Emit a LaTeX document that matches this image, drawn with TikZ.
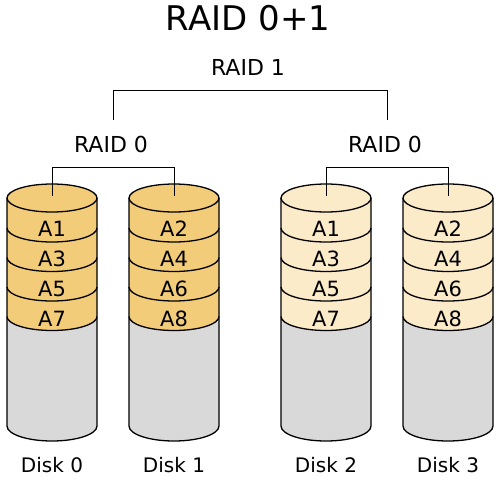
\documentclass[tikz,border=0pt]{standalone}
\usepackage{fontspec}
\setmainfont{DejaVu Sans}
\usetikzlibrary{positioning}

\definecolor{stripeA}{HTML}{F2CC78}
\definecolor{stripeB}{HTML}{FCEBC9}
\definecolor{freespace}{HTML}{D9D9D9}

\begin{document}
\begin{tikzpicture}[x=1pt, y=-1pt,
    lbl/.style={font=\fontsize{22}{26}\selectfont, inner sep=0pt},
    blk/.style={font=\fontsize{21}{25}\selectfont, inner sep=0pt},
    wire/.style={line width=1pt},
    shell/.style={line width=1.3pt},
    rim/.style={x radius=45pt, y radius=14pt},
  ]
  \useasboundingbox (0,0) rectangle (498,482);
  \node[font=\fontsize{34}{40}\selectfont, inner sep=0pt] (title) at (248,18) {RAID 0+1};
  \node[lbl] (r1) at (248,67) {RAID 1};
  \node[lbl] (r0a) at (111,144) {RAID 0};
  \node[lbl] (r0b) at (385,144) {RAID 0};
  \coordinate (m0a) at (113,120);
  \coordinate (m0b) at (387,120);

  % disks
  \foreach \name/\n/\cx/\col/\a/\b/\c/\d in
      {d0/0/52/stripeA/1/3/5/7, d1/1/174/stripeA/2/4/6/8,
       d2/2/326/stripeB/1/3/5/7, d3/3/448/stripeB/2/4/6/8} {
    \fill[freespace] (\cx-45,198) -- (\cx-45,426)
      arc[start angle=180, end angle=360, x radius=45pt, y radius=15pt] -- (\cx+45,198) -- cycle;
    \fill[\col] (\cx-45,198) -- (\cx-45,316.5)
      arc[start angle=180, end angle=360, rim] -- (\cx+45,198) -- cycle;
    \draw[shell, fill=\col] (\cx,198) ellipse[rim];
    \foreach \yy in {228,257.5,287,316.5}
      \draw[shell] (\cx-45,\yy) arc[start angle=180, end angle=360, rim];
    \draw[shell] (\cx-45,198) -- (\cx-45,426)
      arc[start angle=180, end angle=360, x radius=45pt, y radius=15pt] -- (\cx+45,198);
    \node[blk] (\name-1) at (\cx,229) {A\a};
    \node[blk] (\name-2) at (\cx,259) {A\b};
    \node[blk] (\name-3) at (\cx,289) {A\c};
    \node[blk] (\name-4) at (\cx,319) {A\d};
    \node[lbl, font=\fontsize{20}{24}\selectfont] (\name-lbl) at (\cx,465) {Disk \n};
    \coordinate (\name) at (\cx,196);
  }

  \draw[wire] (m0a) -- ++(0,-30) -| (m0b);
  \draw[wire] (d0) -- ++(0,-29) -| (d1);
  \draw[wire] (d2) -- ++(0,-29) -| (d3);
\end{tikzpicture}
\end{document}
